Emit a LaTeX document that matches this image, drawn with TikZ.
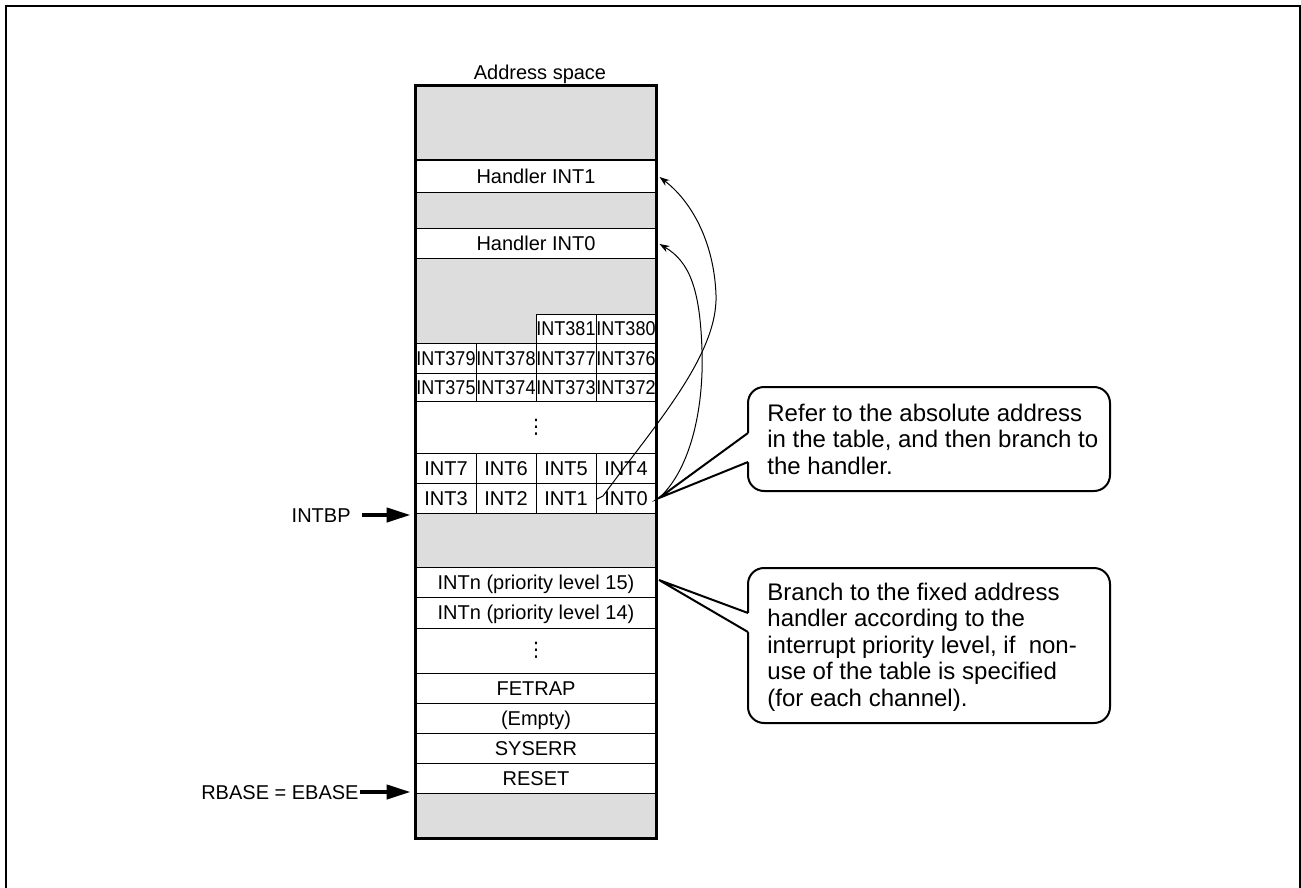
\documentclass[tikz,border=0pt]{standalone}
\usepackage{fontspec}
\setmainfont{Liberation Sans}
\newfontfamily\dotsfont{DejaVu Sans}
\usepackage{graphicx}
\usetikzlibrary{arrows.meta,calc}
\definecolor{memgray}{RGB}{221,221,221}
\newcommand\sqz[1]{\scalebox{0.9}[1]{#1}}
\begin{document}
\begin{tikzpicture}[x=0.5pt,y=-0.5pt,
  cell/.style={draw=black, line width=0.5pt, fill=white, inner sep=0pt, text height=7.16pt, text depth=0pt, font=\fontsize{10}{12}\selectfont},
  dotcell/.style={draw=black, line width=0.5pt, fill=white, inner sep=0pt, font=\fontsize{10}{12}\dotsfont},
  lbl/.style={inner sep=0pt, text height=7.16pt, text depth=0pt, font=\fontsize{10}{12}\selectfont},
  bigarrow/.style={line width=2pt, -{Triangle[length=12pt,width=7pt]}},
  link/.style={line width=0.5pt, -{Stealth[length=5pt,width=3.5pt]}},
  cbox/.style={draw=black, line width=1pt, rounded corners=8pt, fill=white, inner sep=0pt},
  ctext/.style={align=left, inner sep=0pt, font=\fontsize{12}{13.25}\selectfont},
  wedge/.style={line width=1pt, line join=miter}
]
\useasboundingbox (0,0) rectangle (1301,888);
% outer frame
\draw[line width=1pt] (6,892) -- (6,6) -- (1300,6) -- (1300,892);

% title
\node[lbl] (addr) at (540,72) {Address space};

% memory column background
\node[fill=memgray, minimum width=120pt, minimum height=376pt, inner sep=0pt] (col) at (536,462) {};

% handlers
\node[cell, minimum width=120pt, minimum height=16pt] (h1) at (536,176) {Handler INT1};
\node[cell, minimum width=120pt, minimum height=15pt] (h0) at (536,243) {Handler INT0};

% vector table
\foreach \n/\x in {381/566,380/626}
  \node[cell, minimum width=30pt, minimum height=14.5pt] (i\n) at (\x,328.5) {\sqz{INT\n}};
\foreach \n/\x in {379/446,378/506,377/566,376/626}
  \node[cell, minimum width=30pt, minimum height=15pt] (i\n) at (\x,358) {\sqz{INT\n}};
\foreach \n/\x in {375/446,374/506,373/566,372/626}
  \node[cell, minimum width=30pt, minimum height=14pt] (i\n) at (\x,387) {\sqz{INT\n}};
\node[dotcell, minimum width=120pt, minimum height=26pt] (dots1) at (536,427) {⋮};
\foreach \n/\x in {7/446,6/506,5/566,4/626}
  \node[cell, minimum width=30pt, minimum height=15pt] (int\n) at (\x,468) {INT\n};
\foreach \n/\x in {3/446,2/506,1/566,0/626}
  \node[cell, minimum width=30pt, minimum height=15pt] (int\n) at (\x,498) {INT\n};

% fixed vectors
\node[cell, minimum width=120pt, minimum height=15pt] (p15) at (536,582) {INTn (priority level 15)};
\node[cell, minimum width=120pt, minimum height=15.5pt] (p14) at (536,612.5) {INTn (priority level 14)};
\node[dotcell, minimum width=120pt, minimum height=22.5pt] (dots2) at (536,650.5) {⋮};
\node[cell, minimum width=120pt, minimum height=15pt] (fetrap) at (536,688) {FETRAP};
\node[cell, minimum width=120pt, minimum height=15pt] (empty) at (536,718) {(Empty)};
\node[cell, minimum width=120pt, minimum height=15pt] (syserr) at (536,748) {SYSERR};
\node[cell, minimum width=120pt, minimum height=15pt] (reset) at (536,778) {RESET};

% thick outline of the column
\draw[line width=1.5pt] (col.north west) rectangle (col.south east);

% left pointers
\node[lbl, anchor=east] (intbp) at (351,515) {INTBP};
\node[lbl, anchor=east] (rbase) at (359,792) {RBASE = EBASE};
\draw[bigarrow] ($(intbp.east)+(11,0)$) -- ($(col.west |- intbp.east)+(-5,0)$);
\draw[bigarrow] ($(rbase.east)+(1,0)$) -- ($(col.west |- rbase.east)+(-5,0)$);

% callout 1
\node[cbox, minimum width=181pt, minimum height=52pt] (c1) at (929,439) {};
\coordinate (tip1) at (659,498);
\fill[white] (tip1) -- (748,433) -- (751,433) -- (751,462) -- (748,462) -- cycle;
\draw[wedge] (748,433) -- (tip1) -- (748,462);
\node[ctext, anchor=north west] (c1t) at (767,403.5) {Refer to the absolute address\\in the table, and then branch to\\the handler.};

% callout 2
\node[cbox, minimum width=181pt, minimum height=77.5pt] (c2) at (929,645.5) {};
\coordinate (tip2) at (659,580);
\fill[white] (tip2) -- (748,613) -- (751,613) -- (751,632) -- (748,632) -- cycle;
\draw[wedge] (748,613) -- (tip2) -- (748,632);
\node[ctext, anchor=north west] (c2t) at (767,582.5) {Branch to the fixed address\\handler according to the\\interrupt priority level, if~ non-\\use of the table is specified\\(for each channel).};

% branch curves
\coordinate (s1) at (597,499);
\coordinate (s1b) at (603,496);
\draw[link] (s1) -- (s1b) .. controls (655,425) and (718,355) .. (716,295)
  .. controls (714,240) and (690,200) .. ($(h1.east)+(3,1)$);
\draw[link] (tip1) .. controls (690,470) and (704,410) .. (702,350)
  .. controls (700,290) and (690,262) .. ($(h0.east)+(3,1)$);
\end{tikzpicture}
\end{document}
